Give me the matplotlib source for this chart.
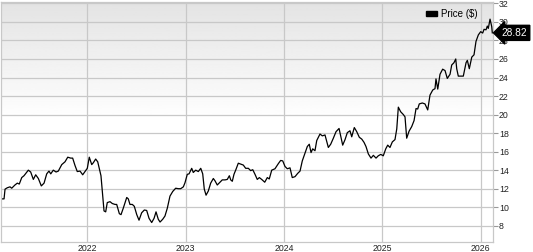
import numpy as np
import matplotlib
matplotlib.use("Agg")
from matplotlib import pyplot as plt
from matplotlib.patches import Patch

plt.rcParams['font.family'] = ['Liberation Sans', 'DejaVu Sans']

# weekly-ish closes (decimal years)
dates = [
    2021.139, 2021.153, 2021.163, 2021.186, 2021.214, 2021.231, 2021.264, 2021.288,
    2021.308, 2021.333, 2021.356, 2021.400, 2021.424, 2021.451, 2021.475, 2021.502,
    2021.532, 2021.560, 2021.587, 2021.610, 2021.628, 2021.654, 2021.682, 2021.705,
    2021.740, 2021.773, 2021.801, 2021.831, 2021.851, 2021.875, 2021.898, 2021.926,
    2021.953, 2021.977, 2022.000, 2022.020, 2022.045, 2022.061, 2022.085, 2022.106,
    2022.139, 2022.157, 2022.170, 2022.187, 2022.203, 2022.231, 2022.254, 2022.282,
    2022.299, 2022.326, 2022.343, 2022.366, 2022.401, 2022.417, 2022.434, 2022.458,
    2022.478, 2022.503, 2022.526, 2022.553, 2022.580, 2022.604, 2022.628, 2022.655,
    2022.679, 2022.699, 2022.722, 2022.740, 2022.767, 2022.790, 2022.814, 2022.841,
    2022.869, 2022.899, 2022.926, 2022.950, 2022.977, 2022.994, 2023.017, 2023.035,
    2023.062, 2023.078, 2023.103, 2023.129, 2023.154, 2023.174, 2023.190, 2023.208,
    2023.231, 2023.255, 2023.282, 2023.299, 2023.322, 2023.350, 2023.373, 2023.401,
    2023.424, 2023.445, 2023.459, 2023.475, 2023.492, 2023.513, 2023.536, 2023.561,
    2023.587, 2023.611, 2023.638, 2023.662, 2023.683, 2023.706, 2023.729, 2023.750,
    2023.774, 2023.805, 2023.831, 2023.851, 2023.876, 2023.909, 2023.943, 2023.967,
    2023.988, 2024.011, 2024.035, 2024.062, 2024.085, 2024.113, 2024.140, 2024.164,
    2024.187, 2024.215, 2024.238, 2024.258, 2024.276, 2024.293, 2024.316, 2024.334,
    2024.367, 2024.391, 2024.418, 2024.452, 2024.476, 2024.503, 2024.530, 2024.561,
    2024.598, 2024.622, 2024.645, 2024.672, 2024.690, 2024.716, 2024.741, 2024.767,
    2024.792, 2024.815, 2024.835, 2024.859, 2024.886, 2024.910, 2024.937, 2024.960,
    2024.985, 2025.011, 2025.036, 2025.056, 2025.079, 2025.103, 2025.130, 2025.148,
    2025.164, 2025.188, 2025.215, 2025.232, 2025.249, 2025.273, 2025.300, 2025.324,
    2025.344, 2025.361, 2025.377, 2025.408, 2025.435, 2025.463, 2025.486, 2025.514,
    2025.537, 2025.547, 2025.565, 2025.588, 2025.615, 2025.639, 2025.662, 2025.690,
    2025.707, 2025.730, 2025.748, 2025.758, 2025.774, 2025.809, 2025.825, 2025.853,
    2025.866, 2025.886, 2025.911, 2025.934, 2025.954, 2025.978, 2026.002, 2026.022,
    2026.036, 2026.056, 2026.069, 2026.079, 2026.097, 2026.114, 2026.120,
]
prices = [
    10.9, 10.9, 11.95, 12.1, 12.2, 12.05, 12.4, 12.6,
    12.5, 13.2, 13.4, 14.0, 13.8, 13.0, 13.5, 13.1,
    12.3, 12.6, 13.6, 13.9, 13.6, 14.0, 13.8, 13.9,
    14.6, 14.9, 15.4, 15.3, 15.3, 14.5, 13.85, 13.9,
    13.5, 13.85, 14.2, 15.4, 14.6, 14.8, 15.2, 14.9,
    13.4, 11.2, 9.6, 9.5, 10.5, 10.6, 10.4, 10.3,
    10.3, 9.3, 9.2, 9.9, 11.05, 10.9, 10.3, 10.3,
    10.1, 9.2, 8.6, 9.4, 9.7, 9.65, 8.8, 8.35,
    8.8, 9.5, 8.7, 8.4, 8.7, 9.05, 9.9, 11.2,
    11.7, 12.05, 12.0, 12.0, 12.2, 12.65, 13.55, 13.6,
    14.2, 13.75, 14.0, 13.85, 14.2, 13.6, 11.95, 11.3,
    11.75, 12.6, 13.1, 12.85, 12.4, 12.7, 12.95, 12.95,
    13.0, 13.4, 12.95, 12.8, 13.55, 14.1, 14.75, 14.65,
    14.55, 14.2, 14.2, 13.95, 14.05, 13.55, 13.0, 13.2,
    13.0, 12.7, 13.2, 13.05, 14.0, 14.15, 14.7, 15.05,
    15.0, 14.4, 14.15, 14.25, 13.2, 13.3, 13.65, 13.9,
    15.0, 15.85, 16.55, 16.8, 15.9, 16.3, 16.1, 17.2,
    17.9, 17.7, 17.8, 16.45, 16.8, 17.45, 18.15, 18.5,
    16.7, 17.3, 18.05, 18.25, 17.6, 18.6, 18.15, 17.55,
    17.35, 17.0, 16.55, 15.75, 15.3, 15.6, 15.3, 15.55,
    15.7, 15.55, 16.3, 16.7, 16.45, 17.05, 17.3, 18.45,
    20.8, 20.3, 20.0, 19.75, 17.45, 18.2, 18.7, 19.35,
    20.65, 20.6, 21.15, 21.25, 21.15, 20.5, 22.1, 22.65,
    22.8, 23.85, 22.75, 24.35, 24.9, 24.75, 23.9, 24.35,
    25.35, 25.6, 26.0, 24.95, 24.15, 24.15, 24.15, 25.6,
    25.85, 24.95, 26.2, 26.45, 27.9, 28.6, 28.95, 28.8,
    29.2, 29.15, 29.55, 29.3, 30.3, 29.5, 28.82,
]
year_ticks = [2022, 2023, 2024, 2025, 2026]
price_ticks = [8, 10, 12, 14, 16, 18, 20, 22, 24, 26, 28, 30, 32]
last_price = prices[-1]

grid_col = '#c8c8c8'
txt_col = '#222222'

fig = plt.figure(figsize=(5.33, 2.52), dpi=100)
ax = fig.add_axes([1 / 533, 10.5 / 252, 491.7 / 533, 239.5 / 252])

# light grey fade at the top of the plot area
t = np.linspace(0, 1, 256)
grad = np.clip(0.89 + 0.11 * t / 0.5, 0, 1).reshape(-1, 1)
ax.imshow(grad, cmap='gray', vmin=0, vmax=1, aspect='auto', origin='upper',
          extent=[0, 1, 0, 1], transform=ax.transAxes, zorder=0)

ax.plot(dates, prices, color='black', lw=0.9, zorder=3)

ax.set_xlim(2021.122, 2026.124)
ax.set_ylim(6.3, 32.15)
ax.set_xticks(year_ticks)
ax.set_xticklabels([str(y) for y in year_ticks])
ax.set_yticks(price_ticks)
ax.yaxis.tick_right()
ax.tick_params(axis='x', length=0, pad=1.5, labelsize=6.3, colors=txt_col)
ax.tick_params(axis='y', length=3.5, width=0.8, color='#999999', pad=1,
               labelsize=6.3, labelcolor=txt_col)
ax.grid(True, color=grid_col, lw=0.9, zorder=1)
ax.set_axisbelow(True)
for s in ax.spines.values():
    s.set_color(grid_col)
    s.set_linewidth(0.9)

# legend
ax.legend(handles=[Patch(facecolor='black', edgecolor='black', label='Price ($)')],
          loc='upper right', bbox_to_anchor=(0.985, 1.0), frameon=False,
          fontsize=7, handlelength=1.1, handleheight=0.45, handletextpad=0.5,
          borderaxespad=0.35)

# last price tag
ax.annotate(f'{last_price:.2f}', xy=(1.0, last_price),
            xycoords=('axes fraction', 'data'), xytext=(6.5, 0),
            textcoords='offset points', ha='left', va='center',
            color='white', fontsize=7.3, annotation_clip=False,
            bbox=dict(boxstyle='larrow,pad=0.25', facecolor='black',
                      edgecolor='black'))

fig.savefig('out.png', dpi=100)
